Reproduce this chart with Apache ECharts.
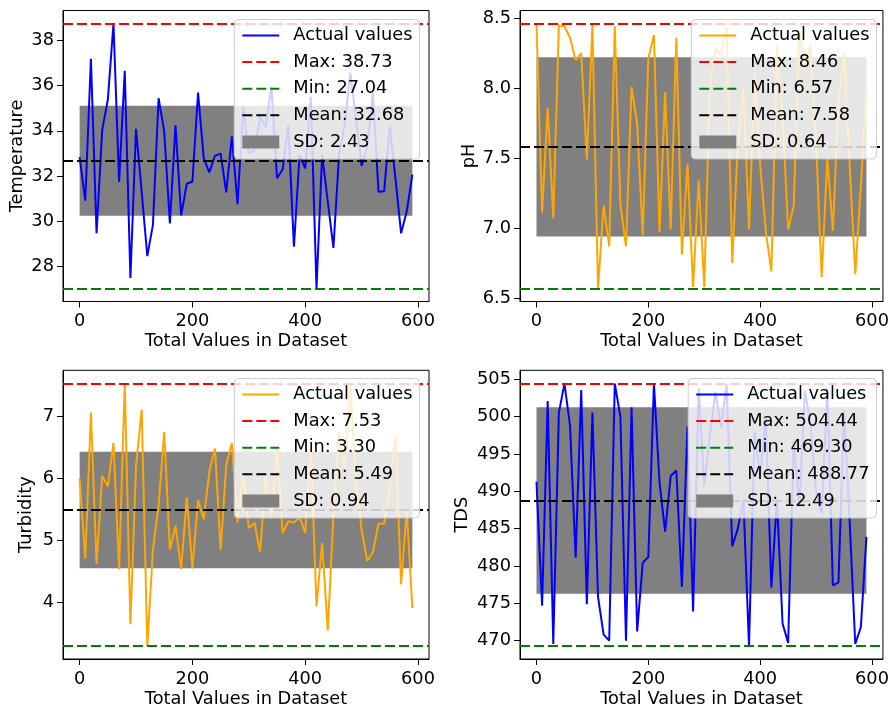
<!DOCTYPE html>
<html>
<head>
<meta charset="utf-8">
<script src="https://cdn.jsdelivr.net/npm/echarts@6/dist/echarts.min.js"></script>
<style>
  html, body { margin: 0; padding: 0; background: #fff; }
  #chart { width: 892px; height: 709px; }
</style>
</head>
<body>
<div id="chart"></div>
<script>
// Sample positions along the dataset (every 10th record)
const sampleIndex = [0, 10, 20, 30, 40, 50, 60, 70, 80, 90, 100, 110, 120, 130, 140, 150, 160, 170, 180, 190,
  200, 210, 220, 230, 240, 250, 260, 270, 280, 290, 300, 310, 320, 330, 340, 350, 360, 370, 380, 390,
  400, 410, 420, 430, 440, 450, 460, 470, 480, 490, 500, 510, 520, 530, 540, 550, 560, 570, 580, 590];

const temperature = [32.84, 30.91, 37.18, 29.47, 34.04, 35.37, 38.73, 31.74, 36.65, 27.50,
  34.09, 31.30, 28.46, 29.85, 35.44, 33.97, 29.91, 34.24, 30.26, 31.66,
  31.76, 35.69, 32.79, 32.16, 32.90, 32.99, 31.28, 33.75, 30.76, 35.05,
  33.00, 33.15, 34.60, 34.15, 35.95, 31.90, 32.30, 34.25, 28.88, 32.93,
  32.34, 35.50, 27.04, 32.94, 30.88, 28.82, 32.94, 34.29, 36.57, 34.54,
  32.45, 33.27, 35.66, 31.31, 31.33, 34.20, 31.90, 29.47, 30.44, 32.06];

const ph = [8.46, 7.11, 7.86, 7.07, 8.45, 8.44, 8.36, 8.20, 8.25, 7.49,
  8.45, 6.57, 7.16, 6.87, 8.44, 7.17, 6.87, 8.01, 7.74, 6.95,
  8.21, 8.38, 6.97, 7.97, 6.99, 8.36, 6.81, 7.46, 6.58, 7.34,
  6.58, 8.02, 8.28, 8.24, 8.44, 6.75, 7.60, 8.00, 6.99, 8.10,
  7.45, 6.98, 6.69, 8.30, 7.80, 6.99, 7.16, 8.40, 8.15, 8.30,
  7.60, 6.65, 7.50, 6.98, 7.90, 8.25, 7.45, 6.67, 7.30, 7.99];

const turbidity = [6.00, 4.71, 7.06, 4.62, 6.04, 5.87, 6.57, 4.53, 7.53, 3.65,
  6.20, 7.11, 3.30, 4.85, 5.57, 6.75, 4.85, 5.24, 4.54, 5.69,
  4.55, 5.65, 5.34, 6.11, 6.48, 4.85, 6.22, 6.57, 5.29, 6.08,
  5.20, 5.28, 4.82, 6.03, 5.36, 6.50, 5.12, 5.31, 5.29, 5.37,
  5.12, 6.46, 3.94, 4.96, 3.55, 5.38, 6.74, 6.16, 7.50, 5.95,
  5.17, 4.67, 4.81, 5.27, 5.27, 5.87, 6.68, 4.29, 5.49, 3.91];

const tds = [491.28, 474.69, 502.08, 469.56, 500.53, 504.42, 498.76, 481.10, 503.54, 474.87,
  500.53, 475.88, 470.80, 470.00, 504.42, 500.00, 470.00, 501.24, 471.24, 480.44,
  481.19, 504.44, 491.15, 484.60, 492.04, 492.79, 477.21, 498.67, 473.90, 503.80,
  490.70, 497.50, 503.30, 498.50, 504.30, 482.65, 484.96, 488.90, 469.30, 498.00,
  492.00, 500.00, 477.10, 488.90, 472.30, 469.70, 496.90, 488.00, 503.50, 499.00,
  490.00, 487.00, 503.80, 477.40, 477.80, 500.90, 486.00, 469.56, 471.80, 483.90];

// Summary statistics shown in each legend
const panelNames = ['Temperature', 'pH', 'Turbidity', 'TDS'];
const statMax  = [38.73, 8.46, 7.53, 504.44];
const statMin  = [27.04, 6.57, 3.30, 469.30];
const statMean = [32.68, 7.58, 5.49, 488.77];
const statSD   = [2.43, 0.64, 0.94, 12.49];

// Axis tick labels
const xTicks = [0, 200, 400, 600];
const yTicks = [
  [28, 30, 32, 34, 36, 38],
  [6.5, 7.0, 7.5, 8.0, 8.5],
  [4, 5, 6, 7],
  [470, 475, 480, 485, 490, 495, 500, 505]
];
const yTickDigits = [0, 1, 0, 0];
const lineColors = ['#0000ff', '#ffa500', '#ffa500', '#0000ff'];

const FONT = 'DejaVu Sans';
const FS = 17.8;

const grids = [
  { left: 63, top: 10.5, width: 366, height: 291 },
  { left: 520, top: 10.5, width: 365, height: 291 },
  { left: 63, top: 370.3, width: 366, height: 290.3 },
  { left: 520, top: 370.3, width: 365, height: 290.3 }
];
const legendPos = [
  { right: 472.5, top: 19.5 },
  { right: 15.5, top: 19.5 },
  { right: 472.5, top: 378.5 },
  { right: 15.5, top: 378.5 }
];
const yNameGap = [37, 38, 28, 49];

// Matplotlib-style 5% padding around the data range
function pad(values) {
  const lo = Math.min(...values), hi = Math.max(...values);
  const m = (hi - lo) * 0.05;
  return [lo - m, hi + m];
}

const xs = pad(sampleIndex);
const dataSets = [temperature, ph, turbidity, tds];
const dash = [10, 4];

// Each panel gets its own legend; an invisible suffix keeps series names distinct
const tagOf = k => '\u200b'.repeat(k);

function refSpecs(k) {
  return [
    { name: 'Max: ' + statMax[k].toFixed(2), value: statMax[k], color: '#ff0000' },
    { name: 'Min: ' + statMin[k].toFixed(2), value: statMin[k], color: '#008000' },
    { name: 'Mean: ' + statMean[k].toFixed(2), value: statMean[k], color: '#000000' }
  ];
}

const option = {
  animation: false,
  backgroundColor: '#ffffff',
  grid: grids.map(g => Object.assign({ show: true, borderColor: '#000', borderWidth: 1, backgroundColor: 'transparent', containLabel: false }, g)),
  xAxis: grids.map((g, k) => ({
    type: 'value', gridIndex: k, min: xs[0], max: xs[1],
    name: 'Total Values in Dataset', nameLocation: 'middle', nameGap: 31,
    nameTextStyle: { fontFamily: FONT, fontSize: FS, color: '#000' },
    axisLine: { show: true, onZero: false, lineStyle: { color: '#000', width: 1 } },
    axisTick: { show: true, length: 6, customValues: xTicks, lineStyle: { color: '#000' } },
    axisLabel: { customValues: xTicks, margin: 11, fontFamily: FONT, fontSize: FS, color: '#000' },
    splitLine: { show: false }
  })),
  yAxis: grids.map((g, k) => {
    const r = pad([statMin[k], statMax[k]]);
    return {
      type: 'value', gridIndex: k, min: r[0], max: r[1],
      name: panelNames[k], nameLocation: 'middle', nameGap: yNameGap[k], nameRotate: 90,
      nameTextStyle: { fontFamily: FONT, fontSize: FS, color: '#000' },
      axisLine: { show: true, onZero: false, lineStyle: { color: '#000', width: 1 } },
      axisTick: { show: true, length: 6, customValues: yTicks[k], lineStyle: { color: '#000' } },
      axisLabel: {
        customValues: yTicks[k], margin: 9, fontFamily: FONT, fontSize: FS, color: '#000',
        formatter: v => Number(v).toFixed(yTickDigits[k])
      },
      splitLine: { show: false }
    };
  }),
  legend: grids.map((g, k) => {
    const tag = tagOf(k);
    const hidden = { opacity: 0, color: 'rgba(0,0,0,0)', borderColor: 'rgba(0,0,0,0)', borderWidth: 0 };
    const items = [
      { name: 'Actual values' + tag, itemStyle: hidden, lineStyle: { color: lineColors[k], width: 2, type: 'solid', opacity: 1 } }
    ].concat(refSpecs(k).map(r => ({
      name: r.name + tag, itemStyle: hidden, lineStyle: { color: r.color, width: 2, type: dash, opacity: 1 }
    }))).concat([
      { name: 'SD: ' + statSD[k].toFixed(2) + tag, icon: 'rect', itemStyle: { color: '#808080', opacity: 1 } }
    ]);
    return Object.assign({
      orient: 'vertical', z: 10,
      itemWidth: 37, itemHeight: 13, itemGap: 8.6,
      padding: [7, 7, 8, 7],
      backgroundColor: 'rgba(255,255,255,0.8)',
      borderColor: '#cccccc', borderWidth: 1, borderRadius: 4,
      textStyle: { fontFamily: FONT, fontSize: FS, lineHeight: 18, color: '#000', padding: [0, 0, 0, 9] },
      selectedMode: false,
      data: items
    }, legendPos[k]);
  }),
  series: []
};

grids.forEach((g, k) => {
  const tag = tagOf(k);
  const mean = statMean[k], sd = statSD[k];
  // Band of one standard deviation around the mean
  option.series.push({
    type: 'line', name: 'SD: ' + sd.toFixed(2) + tag, xAxisIndex: k, yAxisIndex: k,
    data: [], symbol: 'none', z: 1,
    itemStyle: { color: '#808080' }, lineStyle: { color: '#808080' },
    markArea: {
      silent: true,
      itemStyle: { color: '#808080', opacity: 1 },
      label: { show: false },
      data: [[{ xAxis: sampleIndex[0], yAxis: mean - sd }, { xAxis: sampleIndex[sampleIndex.length - 1], yAxis: mean + sd }]]
    }
  });
  // Measured values
  option.series.push({
    type: 'line', name: 'Actual values' + tag, xAxisIndex: k, yAxisIndex: k,
    data: sampleIndex.map((x, i) => [x, dataSets[k][i]]),
    symbol: 'none', showSymbol: false, z: 2,
    itemStyle: { color: lineColors[k] },
    lineStyle: { color: lineColors[k], width: 2 }
  });
  // Horizontal reference lines across the whole panel
  refSpecs(k).forEach(r => {
    option.series.push({
      type: 'line', name: r.name + tag, xAxisIndex: k, yAxisIndex: k,
      data: [], symbol: 'none', z: 3,
      itemStyle: { color: r.color },
      lineStyle: { color: r.color, width: 2, type: dash },
      markLine: {
        silent: true, symbol: ['none', 'none'],
        label: { show: false },
        lineStyle: { color: r.color, width: 2, type: dash },
        data: [{ yAxis: r.value }]
      }
    });
  });
});

const chart = echarts.init(document.getElementById('chart'), null, { renderer: 'canvas' });
chart.setOption(option);
</script>
</body>
</html>
